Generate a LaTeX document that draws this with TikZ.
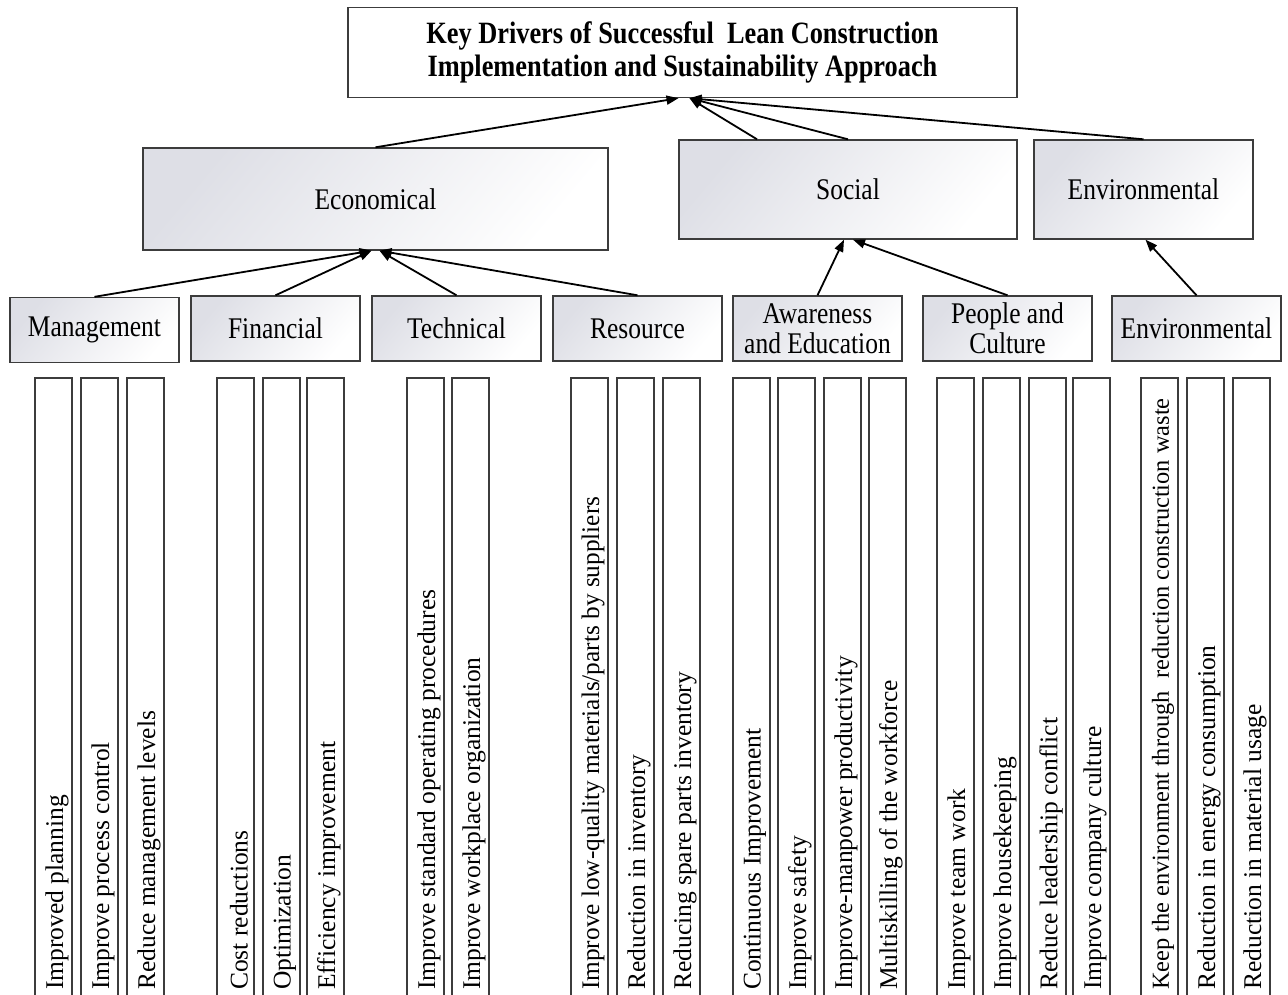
\documentclass[tikz,border=0pt]{standalone}
\usepackage{fontspec}
\setmainfont{Liberation Serif}
\newfontfamily\condfont{Liberation Serif}[FakeStretch=0.85]
\usetikzlibrary{arrows.meta}
\definecolor{bordergray}{RGB}{60,60,60}
\definecolor{shadegray}{RGB}{222,223,230}
\begin{document}
\begin{tikzpicture}[x=1pt,y=-1pt,
  box/.style={draw=bordergray, line width=1.4pt, rectangle, inner sep=0pt},
  shbox/.style={box, top color=shadegray, bottom color=white, shading angle=50},
  toplevel/.style={shbox, font=\condfont\fontsize{30}{31}\selectfont},
  mid/.style={shbox, minimum width=169pt, minimum height=65pt, font=\condfont\fontsize{30}{30}\selectfont, align=center},
  conn/.style={line width=1.8pt, -{Triangle[length=12pt,width=9pt]}},
  vtext/.style={rotate=90, anchor=west, inner sep=0pt, font=\fontsize{25.5}{28}\selectfont},
  vbox/.style={draw=bordergray, line width=1.3pt}]
\useasboundingbox (0,0) rectangle (1288,995);
\fill[white] (0,0) rectangle (1288,995);
\clip (0,0) rectangle (1288,995);

% goal
\node[box, fill=white, minimum width=669pt, minimum height=90pt,
  font=\condfont\bfseries\fontsize{31}{33}\selectfont, align=center]
  (goal) at (682.5,52.5) {Key Drivers of Successful\ \ Lean Construction\\Implementation and Sustainability Approach};

% top level
\node[toplevel, minimum width=465pt, minimum height=102pt] (econ) at (375.5,199) {Economical};
\node[toplevel, minimum width=338pt, minimum height=99pt] (social) at (848,189.5) {Social};
\node[toplevel, minimum width=219pt, minimum height=99pt] (envtop) at (1143.5,189.5) {Environmental};

% mid level
\node[mid] (mgmt) at (94.5,330) {Management};
\node[mid] (fin) at (275.5,328.5) {Financial};
\node[mid] (tech) at (456.5,328.5) {Technical};
\node[mid] (res) at (637.5,328.5) {Resource};
\node[mid] (aware) at (817.5,328.5) {Awareness\\and Education};
\node[mid] (people) at (1007.5,328.5) {People and\\Culture};
\node[mid] (envmid) at (1196.5,328.5) {Environmental};

% connectors to goal
\draw[conn] (econ.north) -- ([xshift=-4pt]goal.south);
\draw[conn] ([xshift=-91pt]social.north) -- ([xshift=7pt]goal.south);
\draw[conn] (social.north) -- ([xshift=7pt]goal.south);
\draw[conn] (envtop.north) -- ([xshift=7pt]goal.south);

% connectors to economical
\draw[conn] (mgmt.north) -- ([xshift=-4pt]econ.south);
\draw[conn] (fin.north) -- ([xshift=-4pt]econ.south);
\draw[conn] (tech.north) -- ([xshift=4pt]econ.south);
\draw[conn] (res.north) -- ([xshift=4pt]econ.south);

% connectors to social / environmental
\draw[conn] (aware.north) -- ([xshift=-4pt]social.south);
\draw[conn] (people.north) -- ([xshift=5pt]social.south);
\draw[conn] (envmid.north) -- ([xshift=2pt]envtop.south);

% vertical items
\foreach \x/\t/\fs [count=\i] in {
  35/{Improved planning}/25.5,
  81/{Improve process control}/25.5,
  127/{Reduce management levels}/25.5,
  217/{Cost reductions}/25.5,
  263/{Optimization}/25.5,
  307/{Efficiency improvement}/25.5,
  407/{Improve standard operating procedures}/25.5,
  452/{Improve workplace organization}/25.5,
  571/{Improve low-quality materials/parts by suppliers}/25.3,
  617/{Reduction in inventory}/25.5,
  663/{Reducing spare parts inventory}/25.5,
  733/{Continuous Improvement}/25.5,
  778/{Improve safety}/25.5,
  824/{Improve-manpower productivity}/25.5,
  869/{Multiskilling of the workforce}/25.5,
  937/{Improve team work}/25.5,
  983/{Improve housekeeping}/25.5,
  1029/{Reduce leadership conflict}/25.5,
  1073/{Improve company culture}/25.5,
  1141/{Keep the environment through\ \ reduction construction waste}/24.4,
  1187/{Reduction in energy consumption}/25.5,
  1233/{Reduction in material usage}/25.5}
{
  \draw[vbox] (\x,1010) -- (\x,378) -- (\x+37,378) -- (\x+37,1010);
  \node[vtext, font=\fontsize{\fs}{28}\selectfont] (v\i) at (\x+22,990) {\t};
}
\end{tikzpicture}
\end{document}
